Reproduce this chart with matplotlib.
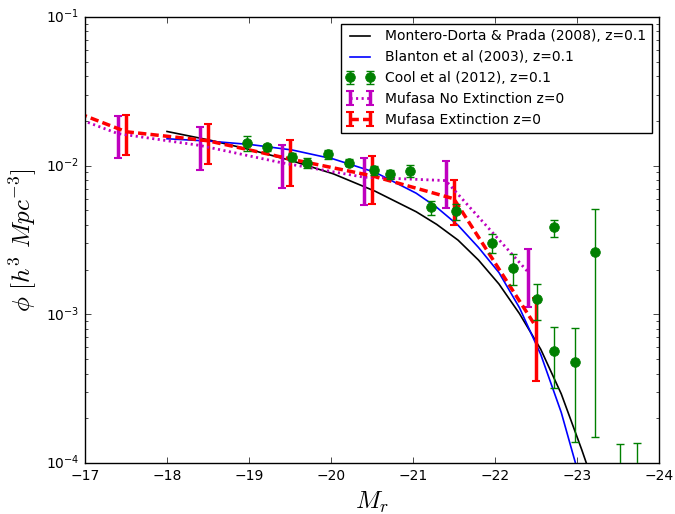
import matplotlib.pyplot as plt

plt.style.use('classic')
plt.rcParams.update({
    "font.size": 10,
    "mathtext.fontset": "cm",
    "legend.numpoints": 2,
})

# Montero-Dorta & Prada (2008) r-band luminosity function
md08_mag = [-18.0, -18.52, -19.02, -19.53, -20.03, -20.54, -21.04, -21.29,
            -21.55, -21.80, -22.05, -22.30, -22.56, -22.81, -23.06, -23.16]
md08_phi = [0.01698, 0.01486, 0.01279, 0.01076, 0.00881, 0.00673, 0.00490, 0.00403,
            0.00316, 0.00232, 0.00160, 0.001012, 0.000582, 0.000292, 0.000123, 0.0000851]

# Blanton et al (2003)
b03_mag = [-18.0, -18.52, -19.02, -19.53, -20.03, -20.54, -21.04, -21.29,
           -21.55, -21.80, -22.05, -22.30, -22.56, -22.81, -23.06]
b03_phi = [0.01517, 0.01462, 0.01387, 0.01274, 0.01109, 0.00902, 0.00653, 0.00525,
           0.00398, 0.00282, 0.00191, 0.001109, 0.000537, 0.000219, 0.0000708]

# Cool et al (2012) measurements
cool_mag = [-18.97, -19.22, -19.52, -19.71, -19.97, -20.22, -20.52, -20.72, -20.97, -21.22,
            -21.52, -21.97, -22.22, -22.52, -22.72, -22.72, -22.98, -23.22, -23.53, -23.74]
cool_phi = [0.0141, 0.01334, 0.0114, 0.01046, 0.01195, 0.0105, 0.0093, 0.00877, 0.00922, 0.00525,
            0.00494, 0.00304, 0.00205, 0.00126, 0.00384, 0.00057, 0.000477, 0.00264, 0.000068, 0.000069]
cool_err = [0.00163, 0.00072, 0.0007, 0.00081, 0.00085, 0.0006, 0.00059, 0.00063, 0.00083, 0.00057,
            0.0006, 0.00044, 0.00048, 0.000345, 0.0005, 0.000252, 0.000338, 0.00249, 0.000066, 0.000067]

# Mufasa, no dust extinction
noext_mag = [-16.4, -17.4, -18.4, -19.4, -20.4, -21.4, -22.4]
noext_phi = [0.0264, 0.01644, 0.01368, 0.01046, 0.00837, 0.00794, 0.00194]
noext_err = [0.0070, 0.00512, 0.00439, 0.00338, 0.0029, 0.00275, 0.00082]

# Mufasa, with dust extinction
ext_mag = [-16.5, -17.5, -18.5, -19.5, -20.5, -21.5, -22.5]
ext_phi = [0.0277, 0.01692, 0.0147, 0.0111, 0.00855, 0.00599, 0.000829]
ext_err = [0.0072, 0.00506, 0.00444, 0.00384, 0.00299, 0.00197, 0.00047]

fig, ax = plt.subplots(figsize=(6.75, 5.14), dpi=100)
fig.subplots_adjust(left=0.126, right=0.976, bottom=0.099, top=0.967)

l1, = ax.plot(md08_mag, md08_phi, 'k-', lw=1.2, label='Montero-Dorta & Prada (2008), z=0.1')
l2, = ax.plot(b03_mag, b03_phi, 'b-', lw=1.2, label='Blanton et al (2003), z=0.1')
e4 = ax.errorbar(noext_mag, noext_phi, yerr=noext_err, fmt=':', color='m', lw=2,
                 dashes=(1.5, 2.5), elinewidth=2.5, capsize=3, capthick=1.5,
                 label='Mufasa No Extinction z=0')
e5 = ax.errorbar(ext_mag, ext_phi, yerr=ext_err, fmt='--', color='r', lw=2.5,
                 dashes=(6, 3), elinewidth=2.5, capsize=3, capthick=1.5,
                 label='Mufasa Extinction z=0')
e3 = ax.errorbar(cool_mag, cool_phi, yerr=cool_err, fmt='o', color='g', ms=7, mec='g',
                 ecolor='g', elinewidth=1, capsize=3, capthick=1, zorder=5,
                 label='Cool et al (2012), z=0.1')

ax.set_yscale('log')
ax.set_xlim(-17, -24)
ax.set_ylim(1e-4, 1e-1)
ax.set_xlabel(r'$M_r$', fontsize=18)
ax.set_ylabel(r'$\phi\ [h^3\ Mpc^{-3}]$', fontsize=18)
ax.legend(handles=[l1, l2, e3, e4, e5], loc='upper right', fontsize=10, handlelength=2.0)

fig.savefig('out.png')
